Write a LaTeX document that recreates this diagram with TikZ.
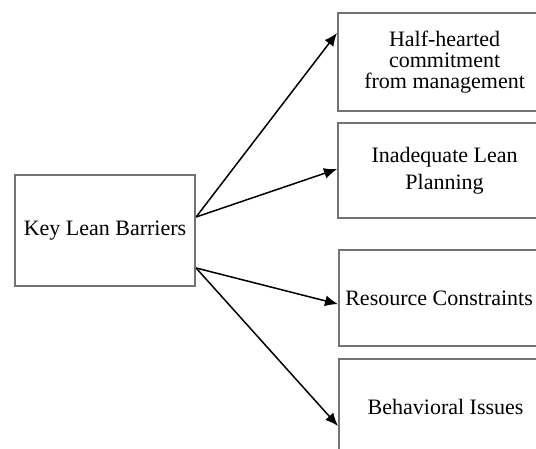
\documentclass[tikz,border=0pt]{standalone}
\usepackage{fontspec}
\setmainfont{Liberation Serif}
\usetikzlibrary{positioning}
\usetikzlibrary{arrows.meta}
\pgfdeclarelayer{background}
\pgfdeclarelayer{foreground}
\pgfsetlayers{background,main,foreground}

\begin{document}
\begin{tikzpicture}[x=1pt,y=-1pt,
					boxnode/.style={rectangle, draw=black!55, line width=2.2pt, fill=white, align=center, inner sep=0pt, font=\fontsize{22}{21}\selectfont},
					barrier/.style={boxnode, anchor=north west, minimum width=213pt},
					arr/.style={line width=1.5pt, -{Latex[length=13pt,width=11pt]}},
					]
					\useasboundingbox (0,0) rectangle (536,449);
					\clip (0,0) rectangle (536,449);
					%Nodes
					\node[boxnode, minimum width=180pt, minimum height=111pt]  (key) at (105,230.5) {Key Lean Barriers};
					\node[barrier, minimum height=98pt]   (b1)  at (337,12)   {Half-hearted\\commitment\\from management};
					\node[barrier, minimum height=95pt]   (b2)  at (337,122)  {Inadequate Lean\\[6pt]Planning};
					\node[barrier, minimum width=200pt, minimum height=96pt]   (b3)  at (338,249)  {Resource Constraints};
					\node[barrier, minimum height=96pt]   (b4)  at (338,358)  {Behavioral Issues};
					
					\begin{pgfonlayer}{background}
					%Lines
					\draw[arr] ([yshift=13.5pt]key.east) -- ([yshift=-21pt]b1.north west);
					\draw[arr] ([yshift=13.5pt]key.east) -- ([yshift=1.5pt]b2.west);
					\draw[arr] ([yshift=-37.5pt]key.east) -- ([yshift=-6pt]b3.west);
					\draw[arr] ([yshift=-37.5pt]key.east) -- ([yshift=-68pt]b4.north west);
					\end{pgfonlayer}
				\end{tikzpicture}
\end{document}
